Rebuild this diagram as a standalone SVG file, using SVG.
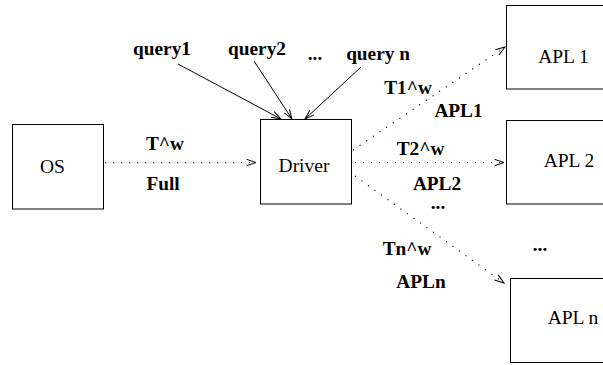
<svg xmlns="http://www.w3.org/2000/svg" width="603" height="365" viewBox="0 0 603 365">
<defs>
<style>
.box{fill:#fff;stroke:#000;stroke-width:1}
.lbl{font-family:"Liberation Serif",serif;font-size:19.5px;text-anchor:middle;fill:#000}
.b{font-family:"Liberation Serif",serif;font-size:19.3px;font-weight:bold;text-anchor:middle;fill:#000}
.solid{stroke:#000;stroke-width:1;fill:none}
.dot{stroke:#000;stroke-width:1.1;fill:none;stroke-dasharray:1.2 6.8}
</style>
<marker id="ah" markerWidth="12" markerHeight="8" refX="10" refY="4" orient="auto" markerUnits="userSpaceOnUse">
<path d="M0.5,0.8 L10,4 L0.5,7.2" fill="none" stroke="#000" stroke-width="1"/>
</marker>
</defs>
<rect width="603" height="365" fill="#fff"/>
<g id="os"><rect class="box" x="12.5" y="124.5" width="91" height="84.5"/><text class="lbl" x="52.5" y="172.5">OS</text></g>
<g id="driver"><rect class="box" x="260.5" y="119.5" width="91" height="84.5"/><text class="lbl" x="304" y="172">Driver</text></g>
<g id="apl1"><rect class="box" x="506.5" y="5.5" width="110" height="83.5"/><text class="lbl" x="563.5" y="63">APL 1</text></g>
<g id="apl2"><rect class="box" x="506.5" y="120.5" width="110" height="83.5"/><text class="lbl" x="569" y="167">APL 2</text></g>
<g id="apln"><rect class="box" x="510.5" y="278.5" width="110" height="84"/><text class="lbl" x="573" y="324">APL n</text></g>
<g id="connectors">
<line class="solid" x1="178" y1="64" x2="281" y2="119" marker-end="url(#ah)"/>
<line class="solid" x1="254" y1="61" x2="292" y2="119" marker-end="url(#ah)"/>
<line class="solid" x1="361" y1="67" x2="305" y2="119" marker-end="url(#ah)"/>
<line class="dot" x1="105" y1="162.5" x2="256" y2="162.5" marker-end="url(#ah)"/>
<line class="dot" x1="353" y1="150" x2="505" y2="47" marker-end="url(#ah)"/>
<line class="dot" x1="355" y1="162.5" x2="504" y2="162.5" marker-end="url(#ah)"/>
<line class="dot" x1="355" y1="176" x2="504" y2="283" marker-end="url(#ah)"/>
</g>
<g id="labels">
<text class="b" x="162" y="54.5">query1</text>
<text class="b" x="257" y="54.5">query2</text>
<text class="b" x="315" y="60">...</text>
<text class="b" x="378" y="60">query n</text>
<text class="b" x="165" y="150">T^w</text>
<text class="b" x="163" y="190">Full</text>
<text class="b" x="408" y="94">T1^w</text>
<text class="b" x="458.5" y="116.5">APL1</text>
<text class="b" x="420.5" y="155">T2^w</text>
<text class="b" x="437" y="190">APL2</text>
<text class="b" x="438" y="209">...</text>
<text class="b" x="407" y="255">Tn^w</text>
<text class="b" x="540" y="251">...</text>
<text class="b" x="421" y="288">APLn</text>
</g>
</svg>
